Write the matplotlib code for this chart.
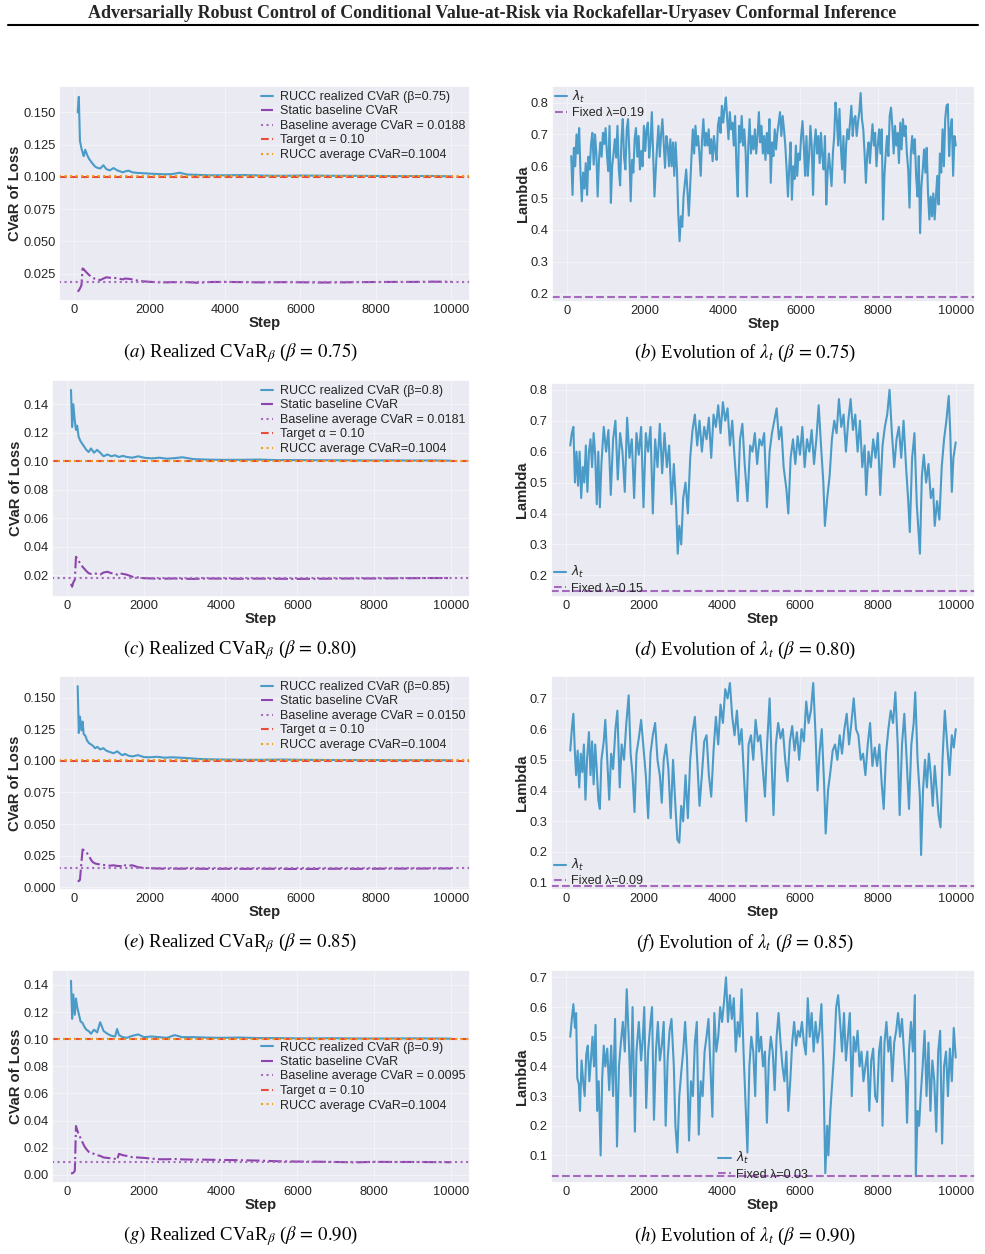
import numpy as np
import matplotlib
matplotlib.use("Agg")
import matplotlib.pyplot as plt
import seaborn as sns
from matplotlib.lines import Line2D

# ---------------- data ----------------
cvar_steps = [100, 130, 160, 200, 230, 260, 300, 350, 400, 450, 500, 560, 620, 700, 780, 860,
              950, 1050, 1150, 1250, 1300, 1350, 1450, 1550, 1700, 1850, 2000, 2200, 2400, 2600,
              2800, 3000, 3300, 3600, 4000, 4500, 5000, 5500, 6000, 6500, 7000, 7500, 8000,
              8500, 9000, 9500, 10000]

betas = ["0.75", "0.8", "0.85", "0.9"]
beta_captions = ["0.75", "0.80", "0.85", "0.90"]
baseline_avg = [0.0188, 0.0181, 0.0150, 0.0095]
fixed_lambda = [0.19, 0.15, 0.09, 0.03]
target_alpha = 0.10
rucc_avg = 0.1004

rucc_075 = [0.150, 0.162, 0.128, 0.122, 0.119, 0.116, 0.121, 0.117, 0.114, 0.112, 0.110, 0.108,
            0.107, 0.1065, 0.109, 0.106, 0.105, 0.1068, 0.105, 0.104, 0.1035, 0.1042, 0.1048,
            0.1035, 0.103, 0.1028, 0.1025, 0.1022, 0.102, 0.1021, 0.1032, 0.1018, 0.1015,
            0.1012, 0.1012, 0.1014, 0.101, 0.1008, 0.101, 0.1009, 0.1008, 0.1008, 0.1007,
            0.1006, 0.1006, 0.1007, 0.1004]
base_075 = [0.011, 0.012, 0.0135, 0.016, 0.029, 0.0285, 0.027, 0.0255, 0.024, 0.0228, 0.0218,
            0.021, 0.0205, 0.020, 0.0212, 0.0222, 0.0218, 0.022, 0.0212, 0.0208, 0.0205, 0.0212,
            0.021, 0.0205, 0.0195, 0.019, 0.0187, 0.0183, 0.0182, 0.0184, 0.0183, 0.0184,
            0.0179, 0.0185, 0.0186, 0.0184, 0.0182, 0.0184, 0.0183, 0.0181, 0.0182, 0.0184,
            0.0185, 0.0186, 0.0186, 0.0188, 0.0187]

rucc_080 = [0.150, 0.124, 0.140, 0.128, 0.122, 0.125, 0.117, 0.114, 0.112, 0.110, 0.108, 0.1065,
            0.109, 0.106, 0.108, 0.106, 0.1035, 0.1048, 0.1035, 0.1042, 0.1035, 0.103, 0.1038,
            0.103, 0.1025, 0.1035, 0.1025, 0.102, 0.1025, 0.1018, 0.1022, 0.1028, 0.1015,
            0.1012, 0.101, 0.101, 0.1012, 0.1008, 0.1008, 0.1007, 0.1007, 0.1006, 0.1006,
            0.1006, 0.1005, 0.1006, 0.1004]
base_080 = [0.014, 0.012, 0.015, 0.017, 0.033, 0.032, 0.030, 0.028, 0.026, 0.0245, 0.023, 0.0215,
            0.021, 0.0215, 0.021, 0.0205, 0.022, 0.0225, 0.0215, 0.021, 0.0205, 0.0215, 0.021,
            0.0205, 0.019, 0.0185, 0.018, 0.0178, 0.0176, 0.0177, 0.0178, 0.0176, 0.0175,
            0.0178, 0.0177, 0.0176, 0.0177, 0.0176, 0.0175, 0.0176, 0.0177, 0.0178, 0.0178,
            0.0179, 0.018, 0.0181, 0.0181]

rucc_085 = [0.159, 0.122, 0.135, 0.124, 0.131, 0.121, 0.120, 0.116, 0.114, 0.113, 0.112, 0.110,
            0.111, 0.109, 0.110, 0.108, 0.107, 0.106, 0.1075, 0.105, 0.1045, 0.1055, 0.104,
            0.1035, 0.1045, 0.103, 0.1028, 0.1032, 0.1025, 0.1028, 0.1025, 0.1022, 0.1015,
            0.1012, 0.101, 0.1008, 0.1008, 0.101, 0.1008, 0.1007, 0.1006, 0.1006, 0.1006,
            0.1005, 0.1005, 0.1006, 0.1004]
base_085 = [0.0055, 0.005, 0.006, 0.020, 0.030, 0.0295, 0.028, 0.027, 0.025, 0.022, 0.020, 0.019,
            0.0185, 0.0182, 0.0178, 0.0175, 0.0172, 0.0175, 0.017, 0.0168, 0.016, 0.0175,
            0.0172, 0.0175, 0.016, 0.0155, 0.0152, 0.015, 0.0148, 0.0149, 0.0148, 0.0149,
            0.0148, 0.0147, 0.0148, 0.0147, 0.0148, 0.0147, 0.0146, 0.0147, 0.0148, 0.0147,
            0.0148, 0.0149, 0.0149, 0.015, 0.015]

rucc_090 = [0.143, 0.115, 0.133, 0.118, 0.130, 0.124, 0.119, 0.113, 0.112, 0.109, 0.107, 0.106,
            0.104, 0.107, 0.105, 0.1125, 0.106, 0.104, 0.1025, 0.102, 0.1075, 0.103, 0.1015,
            0.101, 0.1025, 0.1035, 0.1015, 0.102, 0.1015, 0.101, 0.103, 0.1015, 0.1015,
            0.1012, 0.101, 0.1012, 0.1008, 0.1008, 0.1006, 0.1006, 0.1007, 0.1005, 0.1005,
            0.1005, 0.1006, 0.1005, 0.1004]
base_090 = [0.001, 0.0012, 0.0015, 0.003, 0.036, 0.033, 0.030, 0.027, 0.024, 0.021, 0.019, 0.017,
            0.016, 0.0155, 0.0145, 0.014, 0.0128, 0.0125, 0.0122, 0.0118, 0.011, 0.0155,
            0.0145, 0.014, 0.013, 0.0128, 0.0125, 0.012, 0.0115, 0.0115, 0.0117, 0.0114,
            0.0112, 0.0112, 0.011, 0.0108, 0.0105, 0.010, 0.0098, 0.0097, 0.0095, 0.0092,
            0.0096, 0.0095, 0.0095, 0.0094, 0.0093]

# lambda_t for beta = 0.75, read densely on an evenly spaced step grid
lam_075 = [0.632, 0.51, 0.658, 0.60, 0.70, 0.64, 0.72, 0.58, 0.49, 0.58,
           0.53, 0.61, 0.51, 0.63, 0.59, 0.67, 0.705, 0.605, 0.70, 0.64,
           0.505, 0.62, 0.675, 0.63, 0.705, 0.67, 0.72, 0.64, 0.585, 0.727,
           0.485, 0.60, 0.64, 0.685, 0.627, 0.727, 0.59, 0.54, 0.685, 0.748,
           0.627, 0.59, 0.716, 0.748, 0.64, 0.49, 0.62, 0.58, 0.685, 0.72,
           0.63, 0.695, 0.59, 0.648, 0.60, 0.727, 0.648, 0.716, 0.737, 0.627,
           0.675, 0.77, 0.64, 0.505, 0.59, 0.665, 0.727, 0.63, 0.70, 0.748,
           0.67, 0.595, 0.695, 0.665, 0.60, 0.685, 0.60, 0.675, 0.57, 0.675,
           0.59, 0.45, 0.365, 0.443, 0.41, 0.505, 0.548, 0.59, 0.515, 0.445,
           0.54, 0.63, 0.716, 0.64, 0.727, 0.665, 0.695, 0.64, 0.57, 0.685,
           0.748, 0.665, 0.705, 0.665, 0.716, 0.64, 0.685, 0.616, 0.695, 0.653,
           0.62, 0.727, 0.753, 0.705, 0.79, 0.737, 0.78, 0.816, 0.748, 0.685,
           0.77, 0.716, 0.737, 0.665, 0.758, 0.60, 0.505, 0.727, 0.675, 0.758,
           0.665, 0.716, 0.64, 0.505, 0.665, 0.748, 0.64, 0.695, 0.653, 0.716,
           0.64, 0.695, 0.77, 0.675, 0.727, 0.64, 0.695, 0.62,
           0.705, 0.64, 0.748, 0.548, 0.675, 0.632, 0.716, 0.653, 0.705, 0.737,
           0.77, 0.695, 0.758, 0.716, 0.665, 0.59, 0.505, 0.60, 0.675, 0.495,
           0.60, 0.56, 0.665, 0.57, 0.64, 0.62, 0.695, 0.742, 0.665, 0.57,
           0.695, 0.57, 0.632, 0.727, 0.665, 0.51, 0.665, 0.716, 0.64, 0.695,
           0.61, 0.705, 0.632, 0.59, 0.695, 0.48, 0.58, 0.64, 0.59, 0.538,
           0.64, 0.695, 0.80, 0.748, 0.665, 0.78, 0.665, 0.59, 0.695, 0.548,
           0.665, 0.716, 0.685, 0.737, 0.79, 0.695, 0.748, 0.758, 0.695, 0.737,
           0.77, 0.83, 0.748, 0.716, 0.64, 0.548, 0.64, 0.675, 0.61, 0.675,
           0.732, 0.665, 0.705, 0.60, 0.665, 0.716, 0.64, 0.716, 0.433, 0.57,
           0.64, 0.695, 0.632, 0.758, 0.784, 0.727, 0.64, 0.727, 0.665, 0.705,
           0.61, 0.737, 0.653, 0.748, 0.695, 0.727, 0.64, 0.59, 0.47, 0.64,
           0.695, 0.64, 0.685, 0.57, 0.505, 0.632, 0.39, 0.538, 0.59, 0.653,
           0.58, 0.658, 0.515, 0.433, 0.505, 0.443, 0.515, 0.433, 0.505, 0.57,
           0.48, 0.64, 0.58, 0.716, 0.60, 0.748, 0.79, 0.795, 0.632, 0.716,
           0.748, 0.57, 0.695, 0.665]
lam_075_steps = np.linspace(100, 10000, len(lam_075))

lam_080_steps = [100, 140, 180, 220, 260, 300, 340, 380, 420, 460, 500, 540, 580, 620, 660, 700,
                 740, 780, 820, 860, 900, 960, 1020, 1080, 1140, 1200, 1260, 1320, 1380, 1440,
                 1500, 1560, 1620, 1680, 1740, 1800, 1860, 1920, 1980, 2040, 2100, 2160, 2220,
                 2280, 2340, 2400, 2460, 2520, 2580, 2640, 2700, 2760, 2820, 2860, 2900, 2950,
                 3000, 3060, 3120, 3180, 3240, 3300, 3360, 3420, 3480, 3540, 3600, 3660, 3720,
                 3780, 3840, 3900, 3960, 4020, 4080, 4140, 4200, 4260, 4320, 4400, 4460, 4520,
                 4580, 4650, 4720, 4780, 4840, 4900, 4960, 5020, 5080, 5150, 5220, 5280, 5340,
                 5400, 5460, 5520, 5580, 5650, 5700, 5760, 5820, 5880, 5940, 6000, 6060, 6120,
                 6180, 6240, 6300, 6360, 6420, 6480, 6540, 6600, 6640, 6700, 6760, 6820, 6880,
                 6940, 7000, 7060, 7120, 7180, 7240, 7300, 7360, 7420, 7480, 7540, 7600, 7660,
                 7700, 7760, 7820, 7880, 7940, 8000, 8060, 8120, 8180, 8240, 8300, 8360, 8420,
                 8480, 8540, 8600, 8660, 8720, 8780, 8820, 8880, 8940, 9000, 9080, 9130, 9180,
                 9240, 9300, 9360, 9420, 9460, 9520, 9580, 9640, 9700, 9760, 9820, 9860, 9900,
                 9940, 10000]
lam_080 = [0.62, 0.66, 0.68, 0.50, 0.60, 0.49, 0.60, 0.45, 0.55, 0.50, 0.62, 0.47, 0.60, 0.64,
           0.55, 0.66, 0.59, 0.43, 0.60, 0.42, 0.56, 0.68, 0.60, 0.67, 0.46, 0.64, 0.70, 0.51,
           0.66, 0.60, 0.47, 0.71, 0.58, 0.64, 0.45, 0.66, 0.59, 0.68, 0.42, 0.66, 0.60, 0.68,
           0.40, 0.64, 0.55, 0.69, 0.53, 0.66, 0.55, 0.62, 0.43, 0.56, 0.42, 0.27, 0.36, 0.30,
           0.45, 0.50, 0.40, 0.58, 0.67, 0.72, 0.62, 0.70, 0.60, 0.68, 0.64, 0.71, 0.58, 0.72,
           0.68, 0.75, 0.66, 0.76, 0.70, 0.74, 0.62, 0.70, 0.58, 0.44, 0.64, 0.69, 0.56, 0.44,
           0.62, 0.60, 0.66, 0.56, 0.64, 0.62, 0.66, 0.42, 0.60, 0.66, 0.70, 0.74, 0.64, 0.68,
           0.55, 0.48, 0.40, 0.58, 0.64, 0.56, 0.65, 0.59, 0.68, 0.55, 0.64, 0.60, 0.67, 0.56,
           0.64, 0.75, 0.62, 0.50, 0.36, 0.45, 0.52, 0.64, 0.70, 0.66, 0.77, 0.68, 0.72, 0.60,
           0.70, 0.77, 0.67, 0.72, 0.60, 0.70, 0.55, 0.62, 0.46, 0.60, 0.55, 0.64, 0.58, 0.66,
           0.46, 0.62, 0.68, 0.72, 0.80, 0.66, 0.55, 0.64, 0.68, 0.58, 0.70, 0.56, 0.44, 0.34,
           0.58, 0.66, 0.43, 0.27, 0.52, 0.59, 0.50, 0.56, 0.45, 0.48, 0.36, 0.44, 0.38, 0.55,
           0.64, 0.70, 0.78, 0.66, 0.47, 0.58, 0.63]

lam_085_steps = [100, 140, 180, 220, 250, 290, 330, 370, 410, 450, 490, 530, 580, 620, 660, 700,
                 740, 780, 820, 860, 900, 960, 1000, 1050, 1100, 1150, 1200, 1260, 1310, 1370,
                 1420, 1480, 1540, 1600, 1650, 1700, 1750, 1800, 1860, 1920, 1980, 2040, 2100,
                 2160, 2220, 2280, 2340, 2400, 2450, 2500, 2560, 2620, 2680, 2740, 2800, 2850,
                 2900, 2950, 3000, 3060, 3120, 3180, 3240, 3300, 3360, 3420, 3480, 3540, 3600,
                 3660, 3720, 3780, 3840, 3900, 3960, 4020, 4080, 4140, 4200, 4260, 4320, 4380,
                 4440, 4500, 4560, 4620, 4680, 4740, 4800, 4860, 4920, 4980, 5040, 5100, 5160,
                 5220, 5270, 5320, 5380, 5440, 5500, 5560, 5620, 5680, 5740, 5800, 5860, 5920,
                 5980, 6040, 6100, 6160, 6220, 6280, 6340, 6400, 6450, 6500, 6560, 6620, 6660,
                 6720, 6780, 6840, 6900, 6960, 7020, 7080, 7140, 7200, 7260, 7320, 7380, 7440,
                 7500, 7560, 7620, 7680, 7740, 7800, 7860, 7920, 7980, 8040, 8100, 8150, 8210,
                 8270, 8330, 8390, 8450, 8510, 8560, 8620, 8680, 8740, 8800, 8860, 8920, 8960,
                 9020, 9080, 9110, 9160, 9210, 9260, 9310, 9360, 9410, 9460, 9510, 9560, 9610,
                 9660, 9720, 9780, 9840, 9900, 9950, 10000]
lam_085 = [0.53, 0.60, 0.65, 0.52, 0.45, 0.53, 0.41, 0.52, 0.46, 0.55, 0.37, 0.50, 0.59, 0.45,
           0.56, 0.42, 0.55, 0.47, 0.37, 0.34, 0.50, 0.56, 0.63, 0.50, 0.37, 0.52, 0.47, 0.60,
           0.66, 0.41, 0.55, 0.50, 0.62, 0.71, 0.52, 0.45, 0.33, 0.52, 0.57, 0.63, 0.54, 0.45,
           0.31, 0.52, 0.58, 0.62, 0.50, 0.45, 0.36, 0.50, 0.55, 0.47, 0.31, 0.50, 0.35, 0.24,
           0.23, 0.35, 0.30, 0.45, 0.31, 0.50, 0.59, 0.64, 0.50, 0.35, 0.45, 0.56, 0.58, 0.45,
           0.38, 0.53, 0.64, 0.55, 0.68, 0.62, 0.73, 0.70, 0.75, 0.64, 0.58, 0.66, 0.55, 0.60,
           0.45, 0.30, 0.55, 0.58, 0.50, 0.63, 0.56, 0.58, 0.48, 0.38, 0.56, 0.70, 0.50, 0.32,
           0.55, 0.62, 0.57, 0.60, 0.50, 0.43, 0.56, 0.61, 0.53, 0.59, 0.50, 0.60, 0.56, 0.69,
           0.62, 0.66, 0.75, 0.58, 0.40, 0.52, 0.60, 0.42, 0.26, 0.40, 0.46, 0.53, 0.55, 0.50,
           0.58, 0.52, 0.60, 0.65, 0.55, 0.62, 0.70, 0.60, 0.58, 0.50, 0.52, 0.45, 0.55, 0.62,
           0.48, 0.54, 0.48, 0.55, 0.42, 0.34, 0.52, 0.60, 0.66, 0.62, 0.72, 0.55, 0.32, 0.55,
           0.65, 0.50, 0.34, 0.55, 0.62, 0.72, 0.50, 0.38, 0.19, 0.40, 0.50, 0.41, 0.52, 0.45,
           0.35, 0.48, 0.40, 0.32, 0.28, 0.50, 0.66, 0.55, 0.45, 0.58, 0.54, 0.60]

lam_090_steps = [100, 140, 180, 220, 250, 280, 320, 350, 390, 430, 470, 510, 550, 590, 630, 670,
                 710, 750, 790, 830, 880, 920, 960, 1000, 1050, 1100, 1150, 1200, 1250, 1300,
                 1350, 1400, 1450, 1500, 1550, 1600, 1650, 1700, 1760, 1800, 1860, 1920, 1960,
                 2000, 2050, 2100, 2160, 2200, 2250, 2300, 2350, 2400, 2450, 2500, 2550, 2600,
                 2650, 2700, 2760, 2800, 2850, 2900, 2950, 3000, 3050, 3100, 3150, 3200, 3250,
                 3300, 3350, 3400, 3450, 3500, 3550, 3600, 3650, 3700, 3750, 3800, 3850, 3900,
                 3950, 4000, 4050, 4100, 4150, 4200, 4250, 4300, 4350, 4400, 4450, 4500, 4550,
                 4600, 4650, 4700, 4750, 4800, 4850, 4900, 4950, 5000, 5050, 5100, 5150, 5200,
                 5250, 5300, 5350, 5400, 5450, 5500, 5550, 5600, 5650, 5700, 5750, 5800, 5850,
                 5900, 5950, 6000, 6050, 6100, 6150, 6200, 6250, 6300, 6350, 6400, 6450, 6500,
                 6550, 6600, 6650, 6700, 6730, 6780, 6830, 6880, 6930, 6980, 7030, 7080, 7130,
                 7180, 7230, 7280, 7330, 7380, 7430, 7480, 7530, 7580, 7630, 7680, 7730, 7780,
                 7830, 7880, 7930, 7980, 8030, 8080, 8120, 8170, 8220, 8270, 8320, 8370, 8420,
                 8470, 8520, 8570, 8620, 8670, 8720, 8750, 8800, 8850, 8900, 8950, 8975, 9020,
                 9060, 9100, 9150, 9200, 9250, 9300, 9350, 9400, 9450, 9500, 9550, 9600, 9650,
                 9700, 9750, 9800, 9850, 9900, 9950, 10000]
lam_090 = [0.50, 0.56, 0.61, 0.53, 0.58, 0.36, 0.34, 0.25, 0.42, 0.35, 0.30, 0.44, 0.47, 0.35,
           0.42, 0.50, 0.40, 0.54, 0.25, 0.35, 0.10, 0.36, 0.47, 0.40, 0.46, 0.32, 0.47, 0.30,
           0.56, 0.13, 0.40, 0.48, 0.55, 0.45, 0.66, 0.50, 0.30, 0.60, 0.18, 0.45, 0.55, 0.42,
           0.49, 0.60, 0.26, 0.45, 0.55, 0.60, 0.22, 0.45, 0.55, 0.42, 0.47, 0.55, 0.20, 0.42,
           0.52, 0.56, 0.40, 0.20, 0.11, 0.30, 0.38, 0.45, 0.55, 0.42, 0.15, 0.35, 0.30, 0.48,
           0.55, 0.17, 0.35, 0.30, 0.45, 0.50, 0.56, 0.40, 0.23, 0.58, 0.45, 0.50, 0.60, 0.55,
           0.62, 0.70, 0.55, 0.64, 0.56, 0.63, 0.45, 0.55, 0.50, 0.66, 0.45, 0.28, 0.11, 0.40,
           0.50, 0.45, 0.30, 0.58, 0.45, 0.50, 0.40, 0.45, 0.21, 0.42, 0.50, 0.45, 0.32, 0.50,
           0.58, 0.48, 0.40, 0.35, 0.45, 0.25, 0.35, 0.48, 0.55, 0.47, 0.52, 0.50, 0.55, 0.48,
           0.44, 0.63, 0.50, 0.58, 0.45, 0.55, 0.48, 0.52, 0.61, 0.40, 0.04, 0.20, 0.10, 0.25,
           0.35, 0.45, 0.60, 0.64, 0.55, 0.45, 0.58, 0.42, 0.50, 0.58, 0.30, 0.50, 0.45, 0.52,
           0.40, 0.45, 0.35, 0.40, 0.45, 0.25, 0.42, 0.46, 0.30, 0.28, 0.45, 0.50, 0.20, 0.48,
           0.55, 0.45, 0.50, 0.35, 0.48, 0.52, 0.58, 0.50, 0.56, 0.45, 0.35, 0.21, 0.45, 0.55,
           0.45, 0.64, 0.03, 0.25, 0.20, 0.30, 0.40, 0.52, 0.30, 0.48, 0.25, 0.42, 0.35, 0.18,
           0.45, 0.52, 0.14, 0.40, 0.45, 0.30, 0.46, 0.35, 0.53, 0.43]

rucc_series = [rucc_075, rucc_080, rucc_085, rucc_090]
base_series = [base_075, base_080, base_085, base_090]
lam_steps = [lam_075_steps, lam_080_steps, lam_085_steps, lam_090_steps]
lam_series = [lam_075, lam_080, lam_085, lam_090]

# ---------------- style ----------------
sns.set_theme(style="darkgrid")
plt.rcParams["font.family"] = ["Liberation Sans", "DejaVu Sans"]
plt.rcParams["grid.linewidth"] = 0.8
plt.rcParams["grid.color"] = "#f2f2f7"

BLUE = "#4a9bc7"
PURPLE = "#8e44ad"
LILAC = "#a569bd"
RED = "#e74c3c"
ORANGE = "#f39c12"

W, H = 985, 1254
fig = plt.figure(figsize=(W / 100, H / 100), dpi=100)


def px_axes(x0, y0, x1, y1):
    return fig.add_axes([x0 / W, 1 - y1 / H, (x1 - x0) / W, (y1 - y0) / H])


def caption(xc, yc, letter, body):
    fig.text(xc / W, 1 - yc / H, r"$\mathit{(%s)}$ %s" % (letter, body), ha="center", va="center",
             fontsize=13.5, family="Liberation Serif", math_fontfamily="stix", color="black")


def style_axes(ax, ylabel):
    ax.set_xlabel("Step", fontsize=10.7, fontweight="bold", labelpad=0)
    ax.set_ylabel(ylabel, fontsize=10.6, fontweight="bold", labelpad=0.5)
    ax.tick_params(labelsize=9.3, length=0, pad=2.5, labelcolor="#262626")


# axes rectangles in pixels (left panels: CVaR, right panels: lambda)
cvar_boxes = [(59, 86, 470, 301), (52, 380, 470, 597), (59, 676, 470, 890), (52, 970, 470, 1183)]
lam_boxes = [(552, 86, 975, 302), (551, 383, 975, 597), (551, 676, 975, 890), (551, 970, 975, 1183)]
cvar_ylims = [(0.0038, 0.1704), (0.0048, 0.157), (-0.002, 0.167), (-0.006, 0.151)]
lam_ylims = [(0.174, 0.852), (0.13, 0.822), (0.076, 0.773), (0.007, 0.725)]
cvar_legend_loc = ["upper right", "upper right", "upper right", "center right"]
lam_legend_loc = ["upper left", "lower left", "lower left", "lower center"]
caption_y = [353, 650, 943, 1236]
letters = "abcdefgh"

for k in range(4):
    # ---- CVaR panel ----
    ax = px_axes(*cvar_boxes[k])
    ax.plot(cvar_steps, rucc_series[k], color=BLUE, lw=1.5,
            label=f"RUCC realized CVaR (β={betas[k]})")
    ax.plot(cvar_steps, base_series[k], color=PURPLE, lw=1.5, ls="-.",
            label="Static baseline CVaR")
    ax.axhline(baseline_avg[k], color=LILAC, lw=1.5, ls=":",
               label=f"Baseline average CVaR = {baseline_avg[k]:.4f}")
    ax.axhline(target_alpha, color=RED, lw=1.5, ls="--", label="Target α = 0.10")
    ax.axhline(rucc_avg, color=ORANGE, lw=1.5, ls=":", label=f"RUCC average CVaR={rucc_avg}")
    ax.set_ylim(*cvar_ylims[k])
    style_axes(ax, "CVaR of Loss")
    ax.legend(loc=cvar_legend_loc[k], fontsize=9, frameon=False, handlelength=1.0,
              handletextpad=0.5, labelspacing=0.2, borderaxespad=0.2, borderpad=0.2)
    caption(240, caption_y[k], letters[2 * k],
            r"Realized CVaR$_\beta$ ($\beta\,=\,%s$)" % beta_captions[k])

    # ---- lambda panel ----
    ax = px_axes(*lam_boxes[k])
    ax.plot(lam_steps[k], lam_series[k], color=BLUE, lw=1.5, label=r"$\lambda_t$")
    ax.axhline(fixed_lambda[k], color=LILAC, lw=1.5, ls="--",
               label=f"Fixed λ={fixed_lambda[k]}")
    ax.set_ylim(*lam_ylims[k])
    style_axes(ax, "Lambda")
    ax.legend(loc=lam_legend_loc[k], fontsize=9, frameon=False, handlelength=1.0,
              handletextpad=0.4, labelspacing=0.2, borderaxespad=0.1, borderpad=0.1)
    caption(745, caption_y[k], letters[2 * k + 1],
            r"Evolution of $\lambda_t$ ($\beta\,=\,%s$)" % beta_captions[k])

# page header
fig.text(0.5, 1 - 13 / H,
         "Adversarially Robust Control of Conditional Value-at-Risk via Rockafellar-Uryasev Conformal Inference",
         ha="center", va="center", fontsize=13, fontweight="bold", family="Liberation Serif")
fig.add_artist(Line2D([8 / W, 978 / W], [1 - 25 / H, 1 - 25 / H], color="black", lw=1.5))

fig.savefig("out.png", dpi=100)
